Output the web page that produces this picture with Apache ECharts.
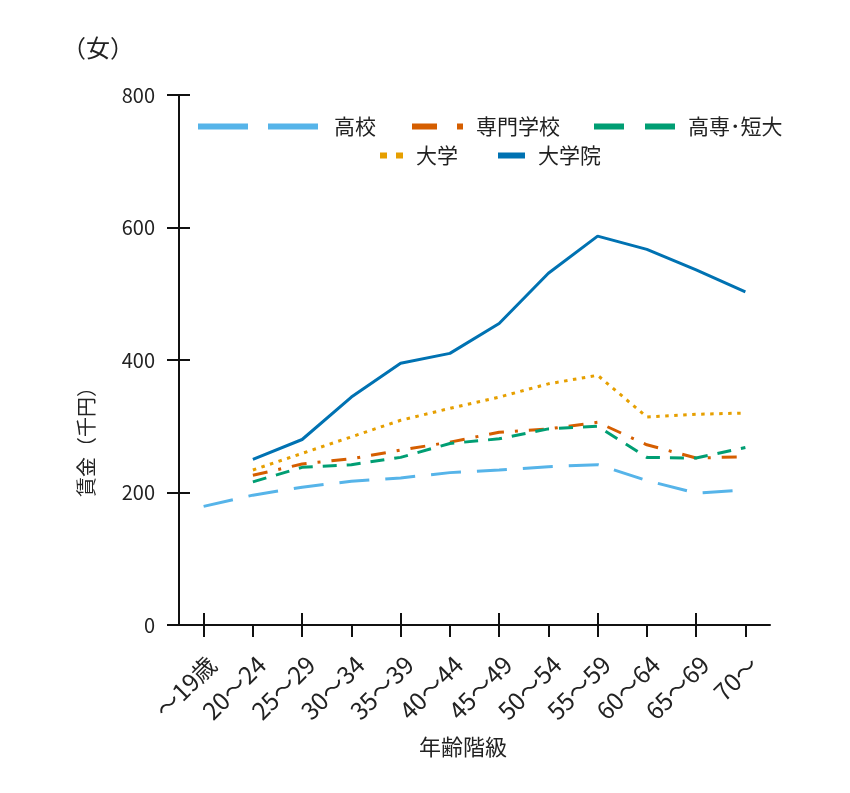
<!DOCTYPE html>
<html>
<head>
<meta charset="utf-8">
<script src="https://cdn.jsdelivr.net/npm/echarts@6/dist/echarts.min.js"></script>
<style>
html,body{margin:0;padding:0;background:#fff;}
#c{width:850px;height:793px;}
</style>
</head>
<body>
<div id="c"></div>
<script>
var categories = ['～19歳','20～24','25～29','30～34','35～39','40～44','45～49','50～54','55～59','60～64','65～69','70～'];
var koukou   = [179,196,208,217,222,230,234,239,242,218,199,204];
var senmon   = [null,226,243,251,264,276,291,296,306,272,252,254];
var kousen   = [null,216,238,242,253,274,281,296,300,253,252,268];
var daigaku  = [null,234,259,284,309,327,344,364,377,314,318,320];
var daigakuin= [null,250,280,344,395,410,455,531,587,567,536,503];
var yTicks = [0,200,400,600,800];

var FONT = '"Noto Sans CJK JP", "Noto Sans", sans-serif';
var TXT = '#222';

var chart = echarts.init(document.getElementById('c'), null, {renderer:'canvas'});

function legendAt(name, left, top, width, dash){
  return {
    data:[name], left:left, top:top, padding:0, orient:'horizontal',
    itemWidth:width, itemHeight:20, selectedMode:false,
    itemStyle:{opacity:0, borderWidth:0},
    lineStyle:{width:6, type:dash, cap:'butt'},
    textStyle:{fontFamily:FONT, fontSize:21, color:TXT, padding:[0,0,0,8]}
  };
}

var option = {
  animation:false,
  backgroundColor:'#fff',
  grid:{left:179, right:80, top:95, bottom:168},
  legend:[
    legendAt('高校', 195, 116, 123, [50,20]),
    legendAt('専門学校', 409, 116, 51, [25,20,6,20]),
    legendAt('高専･短大', 591, 116, 81, [30,21]),
    legendAt('大学', 377, 145, 23, [7,9]),
    legendAt('大学院', 495, 145, 27, 'solid')
  ],
  xAxis:[{
    type:'category', data:categories, boundaryGap:true,
    axisLine:{show:true, lineStyle:{color:'#111', width:2}},
    axisTick:{show:true, alignWithLabel:true, length:12, lineStyle:{color:'#111', width:2}},
    axisLabel:{rotate:45, margin:27, verticalAlign:'top', fontFamily:FONT, fontSize:24, color:TXT, interval:0},
    splitLine:{show:false}
  },{
    type:'category', data:categories, boundaryGap:true, position:'bottom',
    axisLine:{show:false},
    axisTick:{show:true, inside:true, alignWithLabel:true, length:12, lineStyle:{color:'#111', width:2}},
    axisLabel:{show:false}, splitLine:{show:false}
  }],
  yAxis:[{
    type:'value', min:0, max:800, interval:200,
    axisLine:{show:true, lineStyle:{color:'#111', width:2}},
    axisTick:{show:true, length:12, lineStyle:{color:'#111', width:2}},
    axisLabel:{margin:24, fontFamily:FONT, fontSize:20, color:TXT},
    splitLine:{show:false}
  },{
    type:'value', min:0, max:800, interval:200, position:'left',
    axisLine:{show:false},
    axisTick:{show:true, inside:true, length:11, lineStyle:{color:'#111', width:2}},
    axisLabel:{show:false}, splitLine:{show:false}
  }],
  graphic:[
    {type:'text', x:62, y:48, style:{text:'（女）', font:'24px '+FONT, fill:TXT, verticalAlign:'middle'}},
    {type:'text', x:86, y:437, rotation:Math.PI/2,
     style:{text:'賃金（千円）', font:'20px '+FONT, fill:TXT, align:'center', verticalAlign:'middle'}},
    {type:'text', x:463, y:747,
     style:{text:'年齢階級', font:'22px '+FONT, fill:TXT, align:'center', verticalAlign:'middle'}}
  ],
  series:[
    {name:'高校', type:'line', data:koukou, symbol:'none',
     itemStyle:{color:'#56B4E9'}, lineStyle:{color:'#56B4E9', width:3, type:[30,16]}},
    {name:'専門学校', type:'line', data:senmon, symbol:'none',
     itemStyle:{color:'#D55E00'}, lineStyle:{color:'#D55E00', width:3, type:[15,11,3,11]}},
    {name:'高専･短大', type:'line', data:kousen, symbol:'none',
     itemStyle:{color:'#009E73'}, lineStyle:{color:'#009E73', width:3, type:[14,10]}},
    {name:'大学', type:'line', data:daigaku, symbol:'none',
     itemStyle:{color:'#E69F00'}, lineStyle:{color:'#E69F00', width:3, type:[3.5,5.5]}},
    {name:'大学院', type:'line', data:daigakuin, symbol:'none',
     itemStyle:{color:'#0072B2'}, lineStyle:{color:'#0072B2', width:3, type:'solid'}}
  ]
};
chart.setOption(option);
</script>
</body>
</html>
